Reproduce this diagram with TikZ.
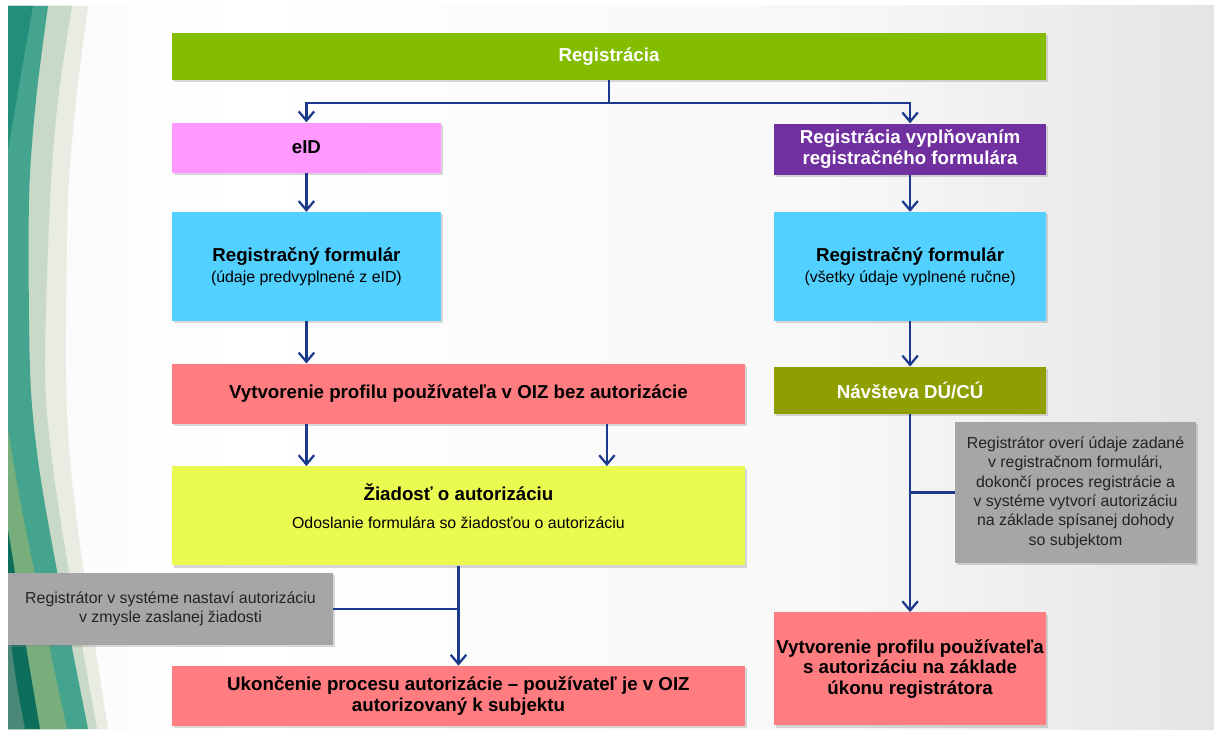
\documentclass[tikz,border=0pt]{standalone}
\usepackage{fontspec}
\setmainfont{Liberation Sans}
\usepackage{tikz}
\usetikzlibrary{arrows.meta, positioning, shadows}
\usepackage{xcolor}
\definecolor{cGreen}{RGB}{132,188,0}
\definecolor{cPink}{RGB}{255,153,255}
\definecolor{cPurple}{RGB}{112,48,160}
\definecolor{cBlue}{RGB}{82,208,255}
\definecolor{cRed}{RGB}{255,124,128}
\definecolor{cOlive}{RGB}{143,158,0}
\definecolor{cYellow}{RGB}{235,250,80}
\definecolor{cGray}{RGB}{166,166,166}
\definecolor{cNote}{RGB}{35,35,35}
\definecolor{cNavy}{RGB}{27,58,140}
\definecolor{cSwPale}{RGB}{232,236,226}
\definecolor{cSwSage}{RGB}{201,217,200}
\definecolor{cSwTeal}{RGB}{69,164,141}
\definecolor{cSwDeep}{RGB}{35,143,123}
\definecolor{cSwLeaf}{RGB}{120,173,124}
\definecolor{cSwDark}{RGB}{14,110,92}
\definecolor{cSwSlate}{RGB}{74,136,120}
\pgfdeclarehorizontalshading{slidebg}{100bp}{color(0bp)=(black!9); color(14bp)=(black!4);
  color(35bp)=(white); color(60bp)=(black!3); color(80bp)=(black!13);
  color(92bp)=(black!22); color(100bp)=(black!32)}
\newcommand{\boxfont}{\fontsize{13.3}{14.7}\selectfont\bfseries}
\newcommand{\notefont}{\fontsize{11.3}{13.8}\selectfont\mdseries}
\tikzset{
  basebox/.style={rectangle, align=center, inner sep=1pt, font=\boxfont,
                  drop shadow={shadow xshift=1.6pt, shadow yshift=-1.6pt,
                               opacity=0.3}},
  topnode/.style={basebox, fill=cGreen, text=white, minimum width=21.85cm,
                  minimum height=1.175cm},
  eidnode/.style={basebox, fill=cPink, minimum width=6.725cm,
                  minimum height=1.25cm},
  methodnode/.style={basebox, fill=cPurple, text=white, minimum width=6.8cm,
                     minimum height=1.275cm},
  formnode/.style={basebox, fill=cBlue, minimum height=2.725cm},
  profilenode/.style={basebox, fill=cRed, minimum width=14.325cm,
                      minimum height=1.5cm},
  visitnode/.style={basebox, fill=cOlive, text=white, minimum width=6.8cm,
                    minimum height=1.175cm},
  requestnode/.style={basebox, fill=cYellow, minimum width=14.325cm,
                      minimum height=2.475cm},
  notenode/.style={basebox, fill=cGray, text=cNote, font=\notefont},
  arrow/.style={-{Straight Barb[length=6.5pt, width=11pt]}, line width=1.6pt,
                color=cNavy},
  link/.style={line width=1.6pt, color=cNavy}
}

\begin{document}
\begin{tikzpicture}[x=0.025cm, y=-0.025cm]

  \useasboundingbox (0,0) rectangle (1214,729);
  \fill[white] (0,0) rectangle (1214,729);
  \shade[shading=slidebg] (8,6) rectangle (1214,729);

  % slide swooshes
  \fill[cSwPale] (8,6) -- plot[smooth] coordinates {(88,6) (76,100) (68,200)
      (66,370) (70,460) (82,560) (108,729)} -- (8,729) -- cycle;
  \fill[cSwSage] (8,6) -- plot[smooth] coordinates {(72,6) (58,100) (50,200)
      (45,370) (52,460) (67,560) (97,729)} -- (8,729) -- cycle;
  \fill[cSwTeal] (8,6) -- plot[smooth] coordinates {(48,6) (36,100) (29,200)
      (30,370) (38,460) (55,560) (88,729)} -- (8,729) -- cycle;
  \fill[cSwDeep] (8,6) -- plot[smooth] coordinates {(33,6) (20,80) (8,150)} -- cycle;
  \fill[cSwLeaf] plot[smooth] coordinates {(8,430) (20,500) (32,560) (48,640)
      (67,729)} -- (8,729) -- cycle;
  \fill[cSwDark] plot[smooth] coordinates {(8,530) (13,560) (25,640) (40,729)}
      -- (8,729) -- cycle;
  \fill[cSwSlate] plot[smooth] coordinates {(8,620) (16,680) (25,729)}
      -- (8,729) -- cycle;

  \node[topnode] (reg) at (609,56.5) {Registrácia};

  \node[eidnode, below=1.05cm of reg.south west, anchor=north west] (eid) {eID};

  \node[methodnode, below=1.075cm of reg.south east, anchor=north east] (method)
      {Registrácia vyplňovaním\\registračného formulára};

  \node[formnode, minimum width=6.725cm, below=0.975cm of eid] (formL)
      {Registračný formulár\\{\notefont (údaje predvyplnené z eID)}};

  \node[formnode, minimum width=6.8cm, below=0.925cm of method] (formR)
      {Registračný formulár\\{\notefont (všetky údaje vyplnené ručne)}};

  \node[profilenode, below=1.05cm of formL.south west, anchor=north west] (profile)
      {Vytvorenie profilu používateľa v OIZ bez autorizácie};

  \node[visitnode, below=1.125cm of formR] (visit) {Návšteva DÚ/CÚ};

  \node[requestnode, below=1.05cm of profile] (request)
      {Žiadosť o autorizáciu\\[5pt]{\notefont Odoslanie formulára so žiadosťou o autorizáciu}\\[-1pt]\mbox{}};

  \node[profilenode, below=2.5cm of request] (doneL)
      {Ukončenie procesu autorizácie – používateľ je v OIZ\\autorizovaný k subjektu};

  \node[profilenode, minimum width=6.8cm, minimum height=2.825cm,
        below=4.95cm of visit] (doneR)
      {Vytvorenie profilu používateľa\\s autorizáciu na základe\\úkonu registrátora};

  \node[notenode, minimum width=8.125cm, minimum height=1.8cm] (setL) at (170.5,609)
      {Registrátor v systéme nastaví autorizáciu\\v zmysle zaslanej žiadosti};

  \node[notenode, minimum width=6.025cm, minimum height=3.525cm] (checkR) at (1075.5,492.5)
      {Registrátor overí údaje zadané\\v registračnom formulári,\\dokončí proces registrácie a\\
       v systéme vytvorí autorizáciu\\na základe spísanej dohody\\so subjektom};

  \draw[arrow] (reg.south) -- ++(0,23) -| (eid.north);
  \draw[arrow] (reg.south) -- ++(0,23) -| (method.north);
  \draw[arrow] (eid.south) -- (formL.north);
  \draw[arrow] (formL.south) -- (formL.south |- profile.north);
  \draw[arrow] (profile.south -| formL) -- (request.north -| formL);
  \draw[arrow] ([xshift=3.71cm]profile.south) -- ([xshift=3.71cm]request.north);
  \draw[arrow] (request.south) -- (doneL.north);
  \draw[link] (setL.east) -- (setL.east -| request.south);
  \draw[arrow] (method.south) -- (formR.north);
  \draw[arrow] (formR.south) -- (visit.north);
  \draw[arrow] (visit.south) -- (doneR.north);
  \draw[link] (checkR.west) -- (checkR.west -| visit.south);

\end{tikzpicture}
\end{document}
